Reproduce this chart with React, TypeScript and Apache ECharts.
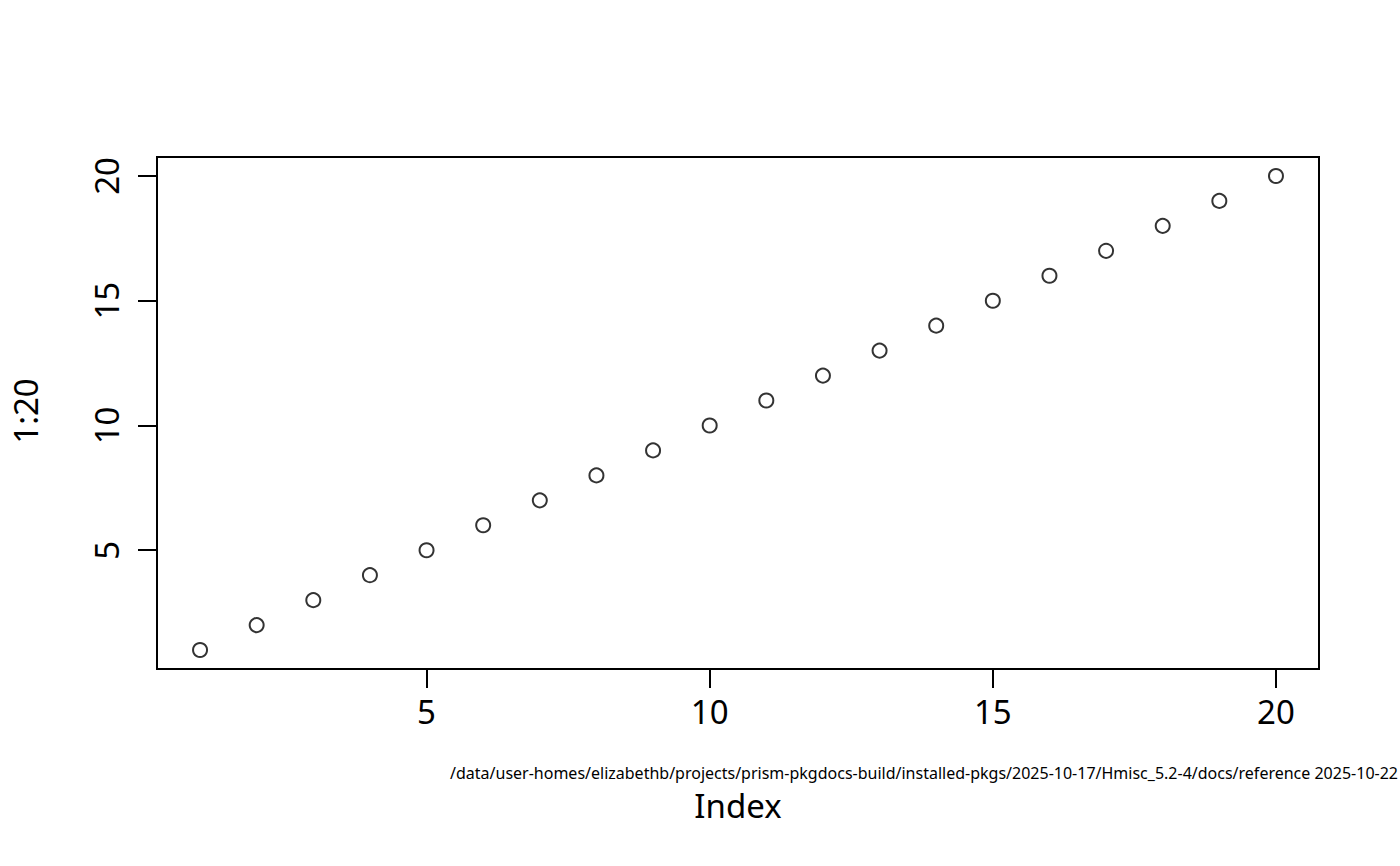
import React, { useEffect, useRef } from "react";
import * as echarts from "echarts";

const xValues = [1, 2, 3, 4, 5, 6, 7, 8, 9, 10, 11, 12, 13, 14, 15, 16, 17, 18, 19, 20];
const yValues = [1, 2, 3, 4, 5, 6, 7, 8, 9, 10, 11, 12, 13, 14, 15, 16, 17, 18, 19, 20];
const xTicks = [5, 10, 15, 20];
const yTicks = [5, 10, 15, 20];
const xTitle = "Index";
const yTitle = "1:20";
const footnote =
  "/data/user-homes/elizabethb/projects/prism-pkgdocs-build/installed-pkgs/2025-10-17/Hmisc_5.2-4/docs/reference 2025-10-22";

const FONT = "Noto Sans";

export default function App() {
  const ref = useRef<HTMLDivElement>(null);
  useEffect(() => {
    if (!ref.current) return;
    const chart = echarts.init(ref.current, null, { renderer: "svg" });
    const data = xValues.map((x, i) => [x, yValues[i]]);
    chart.setOption({
      animation: false,
      backgroundColor: "#ffffff",
      grid: {
        left: 157,
        top: 157,
        right: 81,
        bottom: 197,
        show: true,
        borderColor: "#000000",
        borderWidth: 2,
        backgroundColor: "transparent",
      },
      xAxis: {
        type: "value",
        min: 0.24,
        max: 20.76,
        splitLine: { show: false },
        axisLine: { show: false },
        axisTick: {
          show: true,
          inside: false,
          length: 19,
          lineStyle: { color: "#000", width: 2 },
          customValues: xTicks,
        },
        axisLabel: {
          show: true,
          margin: 26,
          color: "#000",
          fontFamily: FONT,
          fontSize: 33,
          customValues: xTicks,
        },
      },
      yAxis: {
        type: "value",
        min: 0.24,
        max: 20.76,
        splitLine: { show: false },
        axisLine: { show: false },
        axisTick: {
          show: true,
          inside: false,
          length: 19,
          lineStyle: { color: "#000", width: 2 },
          customValues: yTicks,
        },
        axisLabel: {
          show: true,
          margin: 34,
          rotate: 90,
          color: "#000",
          fontFamily: FONT,
          fontSize: 33,
          customValues: yTicks,
        },
      },
      series: [
        {
          type: "scatter",
          data,
          symbol: "circle",
          symbolSize: 14,
          itemStyle: { color: "transparent", borderColor: "#000", borderWidth: 2 },
          emphasis: { disabled: true },
        },
      ],
      graphic: [
        {
          type: "text",
          x: 738,
          y: 805,
          style: {
            text: xTitle,
            fontFamily: FONT,
            fontSize: 33,
            fill: "#000",
            textAlign: "center",
            textVerticalAlign: "middle",
          },
        },
        {
          type: "text",
          x: 25,
          y: 411,
          rotation: Math.PI / 2,
          style: {
            text: yTitle,
            fontFamily: FONT,
            fontSize: 33,
            fill: "#000",
            textAlign: "center",
            textVerticalAlign: "middle",
          },
        },
        {
          type: "text",
          x: 1398,
          y: 773,
          style: {
            text: footnote,
            fontFamily: FONT,
            fontSize: 16,
            fill: "#000",
            textAlign: "right",
            textVerticalAlign: "middle",
          },
        },
      ],
    });
    return () => chart.dispose();
  }, []);
  return (
    <div
      ref={ref}
      style={{ position: "fixed", left: 0, top: 0, width: 1400, height: 866, background: "#fff" }}
    />
  );
}
